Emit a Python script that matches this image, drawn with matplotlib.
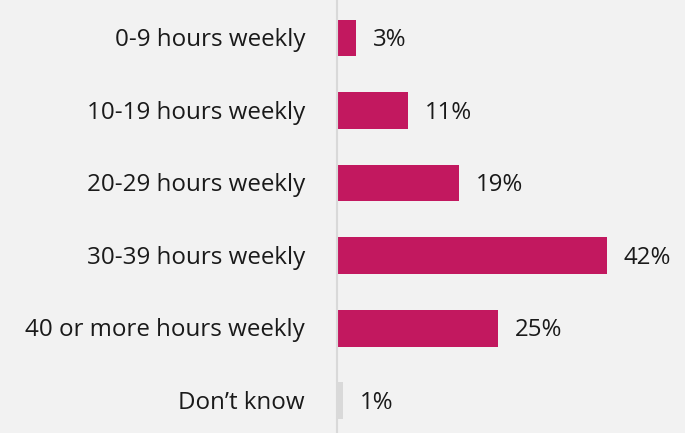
import matplotlib
matplotlib.use("Agg")
import matplotlib.pyplot as plt

categories = ["0-9 hours weekly", "10-19 hours weekly", "20-29 hours weekly",
              "30-39 hours weekly", "40 or more hours weekly", "Don\u2019t know"]
values = [3, 11, 19, 42, 25, 1]
value_labels = ["3%", "11%", "19%", "42%", "25%", "1%"]
bar_colors = ["#C2185F"] * 5 + ["#D9D9D9"]

plt.rcParams['font.family'] = ['Open Sans', 'DejaVu Sans']

fig = plt.figure(figsize=(6.85, 4.33), dpi=100, facecolor="#F2F2F2")
left = 337 / 685
ax = fig.add_axes([left, 0, 1 - left, 1], facecolor="#F2F2F2")

y = list(range(len(categories)))
ax.barh(y, values, height=0.51, color=bar_colors)
ax.set_xlim(0, (685 - 337) / 6.43)
ax.set_ylim(5.448, -0.524)

for yi, v, lab in zip(y, values, value_labels):
    ax.annotate(lab, (v, yi), xytext=(12, -1.5), textcoords="offset points",
                ha="left", va="center", fontsize=17.3, color="#1A1A1A")
    ax.annotate(categories[yi], (0, yi), xytext=(-23, -1.5), textcoords="offset points",
                ha="right", va="center", fontsize=17.4, color="#1A1A1A", annotation_clip=False)

ax.set_xticks([])
ax.set_yticks([])
for s in ["top", "right", "bottom"]:
    ax.spines[s].set_visible(False)
ax.spines["left"].set_color("#D9D9D9")
ax.spines["left"].set_linewidth(1.5)

fig.savefig("out.png", dpi=100, facecolor="#F2F2F2")
